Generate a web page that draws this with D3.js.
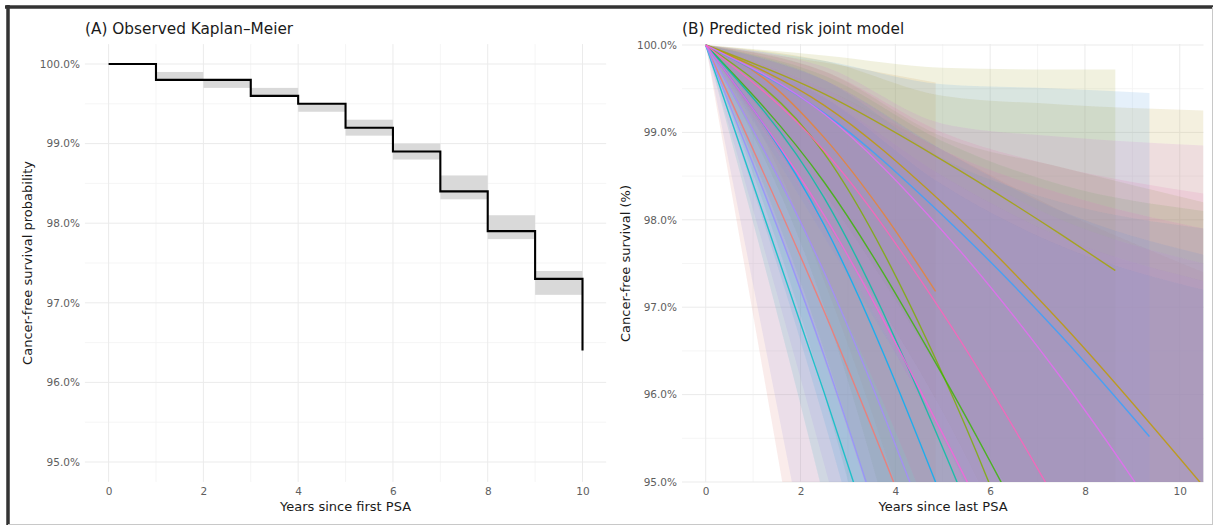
<!DOCTYPE html>
<html>
<head>
<meta charset="utf-8">
<script src="https://cdn.jsdelivr.net/npm/d3@7"></script>
<style>
  html, body { margin: 0; padding: 0; background: #fff; }
  svg { display: block; font-family: "DejaVu Sans", "Liberation Sans", sans-serif; }
</style>
</head>
<body>
<svg id="chart" width="1215" height="526"></svg>
<script>
// ---------- Panel A: observed Kaplan–Meier curve ----------
const kmYears = [0, 1, 2, 3, 4, 5, 6, 7, 8, 9, 10];
const kmSurv  = [100, 99.8, 99.8, 99.6, 99.5, 99.2, 98.9, 98.4, 97.9, 97.3, 96.4];

// yearly confidence band: [start, end) year with lower / upper bound
const ciStartYears = [1, 2, 3, 4, 5, 6, 7, 8, 9];
const ciEndYears   = [2, 3, 4, 5, 6, 7, 8, 9, 10];
const ciLower = [99.8, 99.7, 99.6, 99.4, 99.1, 98.8, 98.3, 97.8, 97.1];
const ciUpper = [99.9, 99.8, 99.7, 99.5, 99.3, 99.0, 98.6, 98.1, 97.4];

// ---------- Panel B: predicted survival per patient ----------
const patientIds = ["p01", "p02", "p03", "p04", "p05", "p06", "p07", "p08",
                    "p09", "p10", "p11", "p12", "p13", "p14", "p15"];

const predYears = [
  [0, 2.5, 5, 7.5, 10.5],
  [0, 1.25, 2.5, 3.75, 4.85],
  [0, 2.5, 5, 7.5, 10.5],
  [0, 2.5, 5, 7.5, 8.64],
  [0, 2.5, 5, 7.5, 10.5],
  [0, 2.5, 5, 7.5, 10.5],
  [0, 2.5, 5, 7.5, 10.5],
  [0, 2.5, 5, 7.5, 10.5],
  [0, 2.5, 5, 7.5, 10.5],
  [0, 2.5, 5, 7.5, 9.36],
  [0, 2.5, 5, 7.5, 10.5],
  [0, 2.5, 5, 7.5, 10.5],
  [0, 2.5, 5, 7.5, 10.5],
  [0, 2.5, 5, 7.5, 10.5],
  [0, 2.5, 5, 7.5, 10.5]
];

const predSurv = [
  [100, 96.95, 93.58, 90.09, 85.78],
  [100, 99.61, 98.94, 98.07, 97.18],
  [100, 99.31, 98.19, 96.82, 94.95],
  [100, 99.44, 98.68, 97.83, 97.42],
  [100, 98.76, 96.23, 92.80, 87.66],
  [100, 98.43, 96.22, 93.67, 90.30],
  [100, 98.25, 95.39, 91.87, 86.98],
  [100, 96.02, 91.88, 87.67, 82.57],
  [100, 97.94, 94.79, 91.03, 85.95],
  [100, 99.22, 98.05, 96.67, 95.52],
  [100, 96.44, 92.18, 87.60, 81.90],
  [100, 97.40, 94.01, 90.26, 85.42],
  [100, 99.21, 97.87, 96.19, 93.82],
  [100, 98.05, 95.55, 92.80, 89.26],
  [100, 98.79, 96.93, 94.68, 91.60]
];

const predLower = [
  [100, 92.2, 84.0, 76.0, 66.0],
  [100, 98.9, 97.3, 95.4, 93.5],
  [100, 98.0, 95.8, 93.0, 89.5],
  [100, 98.3, 96.2, 93.8, 92.6],
  [100, 97.0, 92.0, 85.0, 76.0],
  [100, 96.5, 91.8, 86.0, 79.0],
  [100, 96.0, 90.5, 84.0, 76.0],
  [100, 94.8, 89.0, 83.0, 76.0],
  [100, 95.7, 90.6, 85.0, 78.0],
  [100, 97.8, 95.5, 92.6, 90.8],
  [100, 93.1, 86.0, 79.0, 71.0],
  [100, 95.2, 90.0, 84.0, 77.0],
  [100, 97.9, 95.4, 92.0, 88.0],
  [100, 96.4, 92.0, 86.5, 80.0],
  [100, 97.4, 94.2, 90.0, 85.0]
];

const predUpper = [
  [100, 99.50, 98.80, 98.10, 97.40],
  [100, 99.90, 99.80, 99.68, 99.57],
  [100, 99.82, 99.42, 99.32, 99.25],
  [100, 99.88, 99.74, 99.72, 99.72],
  [100, 99.70, 98.95, 98.60, 98.20],
  [100, 99.65, 98.90, 98.40, 98.10],
  [100, 99.60, 98.70, 98.20, 97.90],
  [100, 99.40, 98.40, 97.70, 97.20],
  [100, 99.60, 98.80, 98.10, 97.60],
  [100, 99.82, 99.55, 99.50, 99.45],
  [100, 99.40, 98.50, 97.80, 97.30],
  [100, 99.50, 98.70, 98.00, 97.50],
  [100, 99.75, 99.10, 98.95, 98.85],
  [100, 99.60, 98.80, 98.30, 97.90],
  [100, 99.70, 99.00, 98.60, 98.30]
];

const patientColors = ["#F8766D", "#EA8331", "#C09B00", "#A3A500", "#7CAE00",
                       "#39B600", "#00C1A3", "#00BFC4", "#00B0F6", "#35A2FF",
                       "#9590FF", "#A58AFF", "#E76BF3", "#FA62DB", "#FF62BC"];

// ---------- shared axis settings ----------
const xTicks = [0, 2, 4, 6, 8, 10];
const xMinor = [1, 3, 5, 7, 9];
const yTicks = [95, 96, 97, 98, 99, 100];
const yMinor = [95.5, 96.5, 97.5, 98.5, 99.5];

const svg = d3.select("#chart");
svg.append("rect").attr("width", 1215).attr("height", 526).attr("fill", "#fff");

const pct = d => d.toFixed(1) + "%";

function drawGrid(g, x, y, top, bottom, left, right) {
  const grid = g.append("g");
  grid.selectAll(".vmin").data(xMinor).join("line")
    .attr("x1", d => x(d)).attr("x2", d => x(d)).attr("y1", top).attr("y2", bottom)
    .attr("stroke", "#f2f2f2").attr("stroke-width", 0.8);
  grid.selectAll(".hmin").data(yMinor).join("line")
    .attr("y1", d => y(d)).attr("y2", d => y(d)).attr("x1", left).attr("x2", right)
    .attr("stroke", "#f2f2f2").attr("stroke-width", 0.8);
  grid.selectAll(".vmaj").data(xTicks).join("line")
    .attr("x1", d => x(d)).attr("x2", d => x(d)).attr("y1", top).attr("y2", bottom)
    .attr("stroke", "#ebebeb").attr("stroke-width", 1);
  grid.selectAll(".hmaj").data(yTicks).join("line")
    .attr("y1", d => y(d)).attr("y2", d => y(d)).attr("x1", left).attr("x2", right)
    .attr("stroke", "#ebebeb").attr("stroke-width", 1);
}

function drawAxes(g, x, y, bottom, left, opts) {
  const ax = g.append("g").attr("transform", `translate(0,${bottom})`)
    .call(d3.axisBottom(x).tickValues(xTicks).tickSize(0).tickPadding(6));
  const ay = g.append("g").attr("transform", `translate(${left},0)`)
    .call(d3.axisLeft(y).tickValues(yTicks).tickFormat(pct).tickSize(0).tickPadding(5));
  [ax, ay].forEach(a => {
    a.select(".domain").remove();
    a.selectAll("text").attr("font-family", "DejaVu Sans, sans-serif")
      .attr("font-size", 10.5).attr("fill", "#5e5e5e");
  });
  g.append("text").attr("x", opts.titleX).attr("y", 34)
    .attr("font-size", 15.3).attr("fill", "#1a1a1a").text(opts.title);
  g.append("text").attr("x", opts.xTitleX).attr("y", 511).attr("text-anchor", "middle")
    .attr("font-size", 13).attr("fill", "#1a1a1a").text(opts.xTitle);
  g.append("text").attr("transform", `translate(${opts.yTitleX},${opts.yTitleY}) rotate(-90)`)
    .attr("text-anchor", "middle").attr("dy", "0.35em")
    .attr("font-size", 13).attr("fill", "#1a1a1a").text(opts.yTitle);
}

// ---------- Panel A ----------
const gA = svg.append("g");
const xA = d3.scaleLinear().domain([-0.5, 10.5]).range([84.9, 606.2]);
const yA = d3.scaleLinear().domain([94.75, 100.25]).range([481.9, 44.1]);
drawGrid(gA, xA, yA, 44.1, 481.9, 84.9, 606.2);

gA.selectAll(".ci").data(ciStartYears).join("rect")
  .attr("x", (d, i) => xA(d))
  .attr("width", (d, i) => xA(ciEndYears[i]) - xA(d))
  .attr("y", (d, i) => yA(ciUpper[i]))
  .attr("height", (d, i) => yA(ciLower[i]) - yA(ciUpper[i]))
  .attr("fill", "#d9d9d9");

const kmLine = d3.line().x(d => xA(d[0])).y(d => yA(d[1])).curve(d3.curveStepAfter);
gA.append("path").datum(kmYears.map((t, i) => [t, kmSurv[i]]))
  .attr("d", kmLine).attr("fill", "none").attr("stroke", "#000").attr("stroke-width", 2.1);

drawAxes(gA, xA, yA, 481.9, 84.9, {
  title: "(A) Observed Kaplan\u2013Meier", titleX: 85,
  xTitle: "Years since first PSA", xTitleX: 345.5,
  yTitle: "Cancer-free survival probability", yTitleX: 27, yTitleY: 263
});

// ---------- Panel B ----------
const gB = svg.append("g");
const xB = d3.scaleLinear().domain([-0.5, 10.5]).range([682, 1203.5]);
const yB = d3.scaleLinear().domain([95, 100]).range([482, 45]);
drawGrid(gB, xB, yB, 44, 482, 682, 1203.5);

svg.append("defs").append("clipPath").attr("id", "clipB")
  .append("rect").attr("x", 682).attr("y", 40).attr("width", 521.5).attr("height", 442);

const plotB = gB.append("g").attr("clip-path", "url(#clipB)");
const band = d3.area().x(d => xB(d.t)).y0(d => yB(d.lo)).y1(d => yB(d.hi)).curve(d3.curveMonotoneX);
const curve = d3.line().x(d => xB(d.t)).y(d => yB(d.s)).curve(d3.curveMonotoneX);

const rows = patientIds.map((id, i) => predYears[i].map((t, j) => ({
  t, s: predSurv[i][j], lo: predLower[i][j], hi: predUpper[i][j]
})));

// overlapping confidence bands, toned down so the stack reads grey-lavender
const bandLayer = plotB.append("g").style("filter", "saturate(0.72)");
bandLayer.selectAll(".band").data(rows).join("path")
  .attr("d", band).attr("fill", (d, i) => patientColors[i]).attr("fill-opacity", 0.15)
  .attr("stroke", "none");
plotB.selectAll(".curve").data(rows).join("path")
  .attr("d", curve).attr("fill", "none").attr("stroke", (d, i) => patientColors[i])
  .attr("stroke-width", 1.4).attr("stroke-opacity", 0.82);

drawAxes(gB, xB, yB, 482, 682, {
  title: "(B) Predicted risk joint model", titleX: 682,
  xTitle: "Years since last PSA", xTitleX: 943,
  yTitle: "Cancer-free survival (%)", yTitleX: 625, yTitleY: 263.5
});

// ---------- outer frame ----------
svg.append("line").attr("x1", 5).attr("x2", 1213).attr("y1", 7).attr("y2", 7)
  .attr("stroke", "#333").attr("stroke-width", 3.5);
svg.append("line").attr("x1", 8).attr("x2", 8).attr("y1", 5).attr("y2", 525)
  .attr("stroke", "#333").attr("stroke-width", 3.5);
svg.append("line").attr("x1", 8).attr("x2", 1213).attr("y1", 524.5).attr("y2", 524.5)
  .attr("stroke", "#c8c8c8").attr("stroke-width", 1);
svg.append("line").attr("x1", 1212.5).attr("x2", 1212.5).attr("y1", 7).attr("y2", 525)
  .attr("stroke", "#c8c8c8").attr("stroke-width", 1);
</script>
</body>
</html>
